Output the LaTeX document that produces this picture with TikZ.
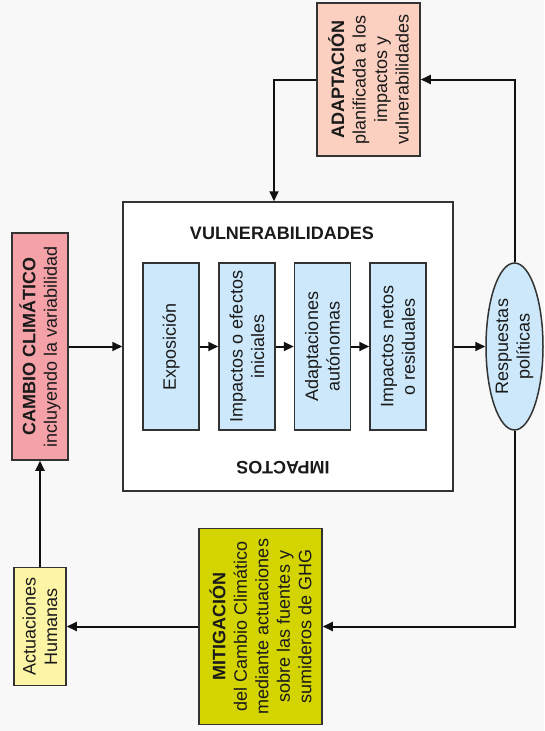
\documentclass[tikz,border=0pt]{standalone}
\usepackage{fontspec}
\setmainfont{Liberation Sans}
\usetikzlibrary{arrows.meta,shapes.geometric}
\definecolor{bg}{HTML}{F8F8F8}
\definecolor{bord}{HTML}{333333}
\definecolor{lin}{HTML}{111111}
\definecolor{txt}{HTML}{1A1A1A}
\definecolor{cambiocol}{HTML}{F4A2A8}
\definecolor{adaptcol}{HTML}{FBD0C0}
\definecolor{bluecol}{HTML}{CCE8FA}
\definecolor{mitigcol}{HTML}{D4D400}
\definecolor{actucol}{HTML}{FDF5A6}
\begin{document}
\begin{tikzpicture}[x=1pt,y=-1pt,
  base/.style={font=\fontsize{18}{21.5}\selectfont, align=center, text=txt},
  box/.style={base, draw=bord, line width=1.5pt, inner sep=0pt},
  rbox/.style={box, rotate=90},
  arr/.style={draw=lin, line width=2pt, -{Triangle[length=10pt,width=9pt]}}]
\useasboundingbox[fill=bg] (0,0) rectangle (544,731);

% main container
\node[box, fill=white, minimum width=330pt, minimum height=289pt] (big) at (288,346.5) {};
\node[base, font=\fontsize{18}{21.5}\selectfont\bfseries] (vul) at (282,233) {VULNERABILIDADES};
\node[base, font=\fontsize{18}{21.5}\selectfont\bfseries, rotate=180] (imp) at (283,468) {IMPACTOS};

% inner boxes
\node[rbox, fill=bluecol, minimum width=167pt, minimum height=56pt] (b1) at (171,346.5) {Exposición};
\node[rbox, fill=bluecol, minimum width=167pt, minimum height=56pt] (b2) at (247,346.5) {Impactos o efectos\\iniciales};
\node[rbox, fill=bluecol, minimum width=167pt, minimum height=56pt] (b3) at (322.5,346.5) {Adaptaciones\\autónomas};
\node[rbox, fill=bluecol, minimum width=167pt, minimum height=56pt] (b4) at (398,346.5) {Impactos netos\\o residuales};

% outer nodes
\node[rbox, fill=cambiocol, minimum width=227pt, minimum height=56pt] (cambio) at (40,346.5) {\textbf{CAMBIO CLIMÁTICO}\\incluyendo la variabilidad};
\node[rbox, ellipse, fill=bluecol, minimum width=167pt, minimum height=57pt] (resp) at (514.5,346.5) {Respuestas\\políticas};
\node[rbox, fill=adaptcol, minimum width=153pt, minimum height=103pt] (adapt) at (368.5,79.5) {\textbf{ADAPTACIÓN}\\planificada a los\\impactos y\\vulnerabilidades};
\node[rbox, fill=mitigcol, minimum width=196pt, minimum height=123pt] (mitig) at (260.5,626.5) {\textbf{MITIGACIÓN}\\del Cambio Climático\\mediante actuaciones\\sobre las fuentes y\\sumideros de GHG};
\node[rbox, fill=actucol, minimum width=118pt, minimum height=52pt] (actu) at (40,626.5) {Actuaciones\\Humanas};

% connectors
\draw[arr] (cambio.south) -- (big.west);
\draw[arr] (b1.south) -- (b2.north);
\draw[arr] (b2.south) -- (b3.north);
\draw[arr] (b3.south) -- (b4.north);
\draw[arr] (big.east) -- (resp.north);
\draw[arr] (resp.east) |- (adapt.south);
\draw[arr] (adapt.north) -| ([xshift=-14pt]big.north);
\draw[arr] (resp.west) |- (mitig.south);
\draw[arr] (mitig.north) -- (actu.south);
\draw[arr] (actu.east) -- (cambio.west);
\end{tikzpicture}
\end{document}
